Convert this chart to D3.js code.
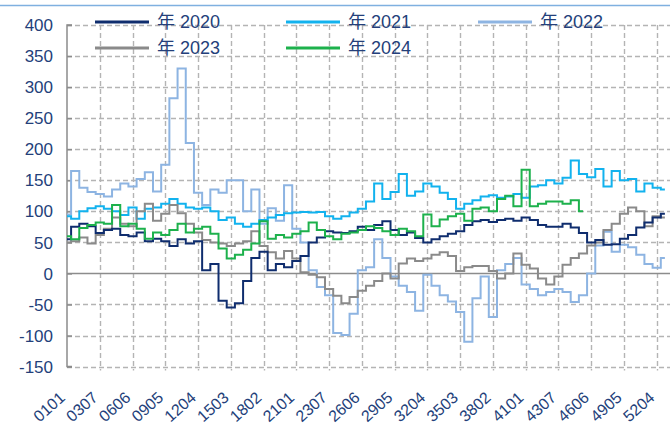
<!DOCTYPE html>
<html lang="zh">
<head>
  <meta charset="UTF-8">
  <title>年度对比</title>
  <script src="https://d3js.org/d3.v7.min.js"></script>
  <style>
    body { margin: 0; background: #fff; }
    svg { display: block; font-family: "Liberation Sans", Arial, "Noto Sans CJK SC", sans-serif; }
  </style>
</head>
<body>
  <svg id="chart" width="670" height="428"></svg>
  <script>
    // categories: week+day codes shown on the x axis
    const tickLabels = ["0101","0307","0606","0905","1204","1503","1802","2101","2307","2606",
                        "2905","3204","3503","3802","4101","4307","4606","4905","5204"];
    const yTicks = [-150, -100, -50, 0, 50, 100, 150, 200, 250, 300, 350, 400];
    const step = 5; // one value every 5 days

    const v2020 = [55,75,80,76,65, 70,72,62,60,66, 52,56,52,44,55, 48,52,5,15,-44,
                   -55,-48,-12,25,35, 5,15,10,20,28, 50,58,68,66,65, 68,75,70,78,84,
                   70,62,66,57,50, 55,60,64,68,78, 84,86,83,86,88, 85,90,86,78,75,
                   75,80,74,65,50, 54,46,47,56,62, 74,82,90,96];
    const v2021 = [92,88,100,105,108, 104,100,94,106,88, 104,106,112,120,112, 106,104,106,100,86,
                   90,80,75,80,86, 90,94,97,98,99, 98,99,92,88,92, 98,104,116,145,120,
                   131,160,125,132,145, 140,130,120,104,112, 118,124,126,122,124, 128,122,140,142,150,
                   145,154,182,160,155, 168,140,165,150,152, 132,145,138,135];
    const v2022 = [95,165,138,131,128, 124,135,145,140,152, 163,132,175,282,330, 210,130,110,135,130,
                   150,150,100,135,80, 105,85,142,72,50, 5,-22,-35,-96,-99, -65,5,10,55,25,
                   -5,-20,-30,-60,-2, -20,-35,-45,-62,-110, -40,-5,-70,5,15, 25,-18,-25,-35,-30,
                   -25,-30,-46,-35,0, 45,67,35,46,42, 30,15,9,25];
    const v2023 = [50,52,58,48,62, 72,90,80,76,100, 112,85,96,110,97, 80,66,54,50,48,
                   44,48,52,68,44, 34,24,36,24,2, -2,-6,-25,-36,-48, -38,-28,-20,-12,0,
                   -8,16,24,20,24, 30,34,28,4,10, 12,12,4,-8,0, 32,14,8,-8,-18,
                   -5,14,25,32,45, 50,70,80,96,106, 100,76,92,90];
    const v2024 = [60,55,73,78,82, 80,110,76,80,72, 56,66,62,70,80, 66,72,75,64,40,
                   24,30,38,48,84, 56,62,58,64,68, 82,70,60,55,64, 66,70,76,73,68,
                   62,72,68,60,95, 76,87,92,96,85, 104,106,100,120,125, 108,167,108,112,116,
                   116,112,118,100];

    const series = [
      {name: "2020", color: "#0f2d6e", values: v2020},
      {name: "2021", color: "#12b2ee", values: v2021},
      {name: "2022", color: "#8db4e2", values: v2022},
      {name: "2023", color: "#8a8a8a", values: v2023},
      {name: "2024", color: "#1db14c", values: v2024}
    ];
    const drawOrder = ["2022", "2021", "2023", "2020", "2024"];

    const width = 670, height = 428;
    const dayOf = s => (+s.slice(0, 2) - 1) * 7 + (+s.slice(2) - 1);

    const x = d3.scaleLinear().domain([0, 360]).range([67, 656.7]);
    const y = d3.scaleLinear().domain([-150, 400]).range([366.6, 25]);

    const svg = d3.select("#chart");
    svg.append("rect").attr("width", width).attr("height", height).attr("fill", "#fff");

    // top border
    svg.append("line").attr("x1", 0).attr("x2", width).attr("y1", 5.5).attr("y2", 5.5)
      .attr("stroke", "#7fb0e0").attr("stroke-width", 1.5);

    // dashed grid
    const gridColor = "#b4b4b4";
    const grid = svg.append("g")
      .attr("stroke", gridColor).attr("stroke-width", 1.4).attr("stroke-dasharray", "5,3");
    grid.selectAll("path.h").data(yTicks.filter(d => d !== 0)).enter().append("path")
      .attr("class", "h")
      .attr("d", d => `M${x(0)},${Math.round(y(d)) + 0.5}H${width}`);
    grid.selectAll("path.v").data(tickLabels.slice(1)).enter().append("path")
      .attr("class", "v")
      .attr("d", d => `M${Math.round(x(dayOf(d))) + 0.5},${y(400)}V${y(-150) + 4}`);

    // y axis
    const yAxis = svg.append("g")
      .attr("transform", `translate(${x(0)},0)`)
      .call(d3.axisRight(y).tickValues(yTicks).tickSize(5).tickFormat(""));
    yAxis.selectAll("path, line").attr("stroke", "#8c8c8c").attr("stroke-width", 1.5);
    yAxis.select(".domain").attr("d", `M5,${y(400)}H0V${y(-150)}H5`);

    svg.append("g").selectAll("text").data(yTicks).enter().append("text")
      .attr("x", 53).attr("y", d => y(d)).attr("dy", "0.36em")
      .attr("text-anchor", "end").attr("font-size", 17).attr("fill", "#243f7a")
      .text(d => d);

    // zero line
    svg.append("line").attr("x1", x(0)).attr("x2", width)
      .attr("y1", y(0)).attr("y2", y(0))
      .attr("stroke", "#8c8c8c").attr("stroke-width", 1.5);

    // x labels
    svg.append("g").selectAll("text").data(tickLabels).enter().append("text")
      .attr("transform", d => `translate(${x(dayOf(d)) - 1},${399}) rotate(-42)`)
      .attr("text-anchor", "end").attr("font-size", 16).attr("fill", "#243f7a")
      .text(d => d);

    // lines
    const line = d3.line()
      .x((d, i) => x(i * step))
      .y(d => y(d))
      .curve(d3.curveStep);

    const plot = svg.append("g");
    drawOrder.forEach(n => {
      const s = series.find(k => k.name === n);
      plot.append("path").datum(s.values)
        .attr("d", line)
        .attr("fill", "none")
        .attr("stroke", s.color)
        .attr("stroke-width", 2)
        .attr("stroke-linejoin", "miter");
    });

    // legend
    const legendPos = [[95, 22], [286, 22], [478, 22], [95, 48], [286, 48]];
    const legend = svg.append("g").selectAll("g").data(series).enter().append("g")
      .attr("transform", (d, i) => `translate(${legendPos[i][0]},${legendPos[i][1]})`);
    legend.append("line").attr("x1", 0).attr("x2", 54)
      .attr("stroke", d => d.color).attr("stroke-width", 3);
    legend.append("text").attr("x", 62).attr("dy", "0.36em")
      .attr("font-size", 18).attr("fill", "#243f7a")
      .text(d => "年 " + d.name);
  </script>
</body>
</html>
